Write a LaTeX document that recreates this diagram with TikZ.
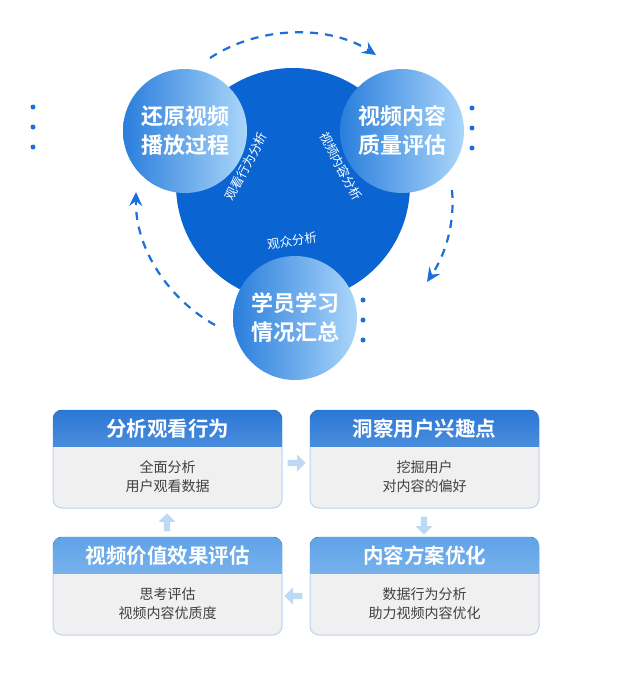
\documentclass[tikz,border=0pt]{standalone}
\usepackage{fontspec}
\newfontfamily\cjk{Noto Sans CJK SC}
\newfontfamily\cjkb{Noto Sans CJK SC Bold}
\usetikzlibrary{arrows.meta,shapes.arrows}
\definecolor{dark}{HTML}{0A64D2}
\definecolor{cl}{HTML}{2A7EDC}
\definecolor{cr}{HTML}{AAD6FA}
\definecolor{dash}{HTML}{1A6FD8}
\definecolor{hd1}{HTML}{2A78D6}
\definecolor{hd2}{HTML}{5FA3E8}
\definecolor{bd}{HTML}{B5D5F3}
\definecolor{ar}{HTML}{BCD9F5}
\begin{document}
\begin{tikzpicture}[x=1pt,y=-1pt,
  ball/.style={circle,minimum size=124pt,left color=cl,right color=cr,inner sep=0},
  balltext/.style={font=\cjkb\fontsize{22}{29}\selectfont,text=white,align=center,inner sep=0},
  dashedarc/.style={draw=dash,line width=2.2pt,dash pattern=on 8pt off 7pt,-{Stealth[length=14pt,width=13pt,inset=5pt]}},
  dotc/.style={circle,fill=dash,minimum size=5pt,inner sep=0},
  inner/.style={text=white,font=\cjk\fontsize{12.5}{14}\selectfont,inner sep=0pt},
  head/.style={text=white,font=\cjkb\fontsize{20.5}{24}\selectfont},
  body/.style={text=black!75,font=\cjk\fontsize{14}{19}\selectfont,align=center},
  blk/.style={single arrow,fill=ar,minimum height=18pt,minimum width=17pt,single arrow head extend=2pt,inner sep=1pt}]
\useasboundingbox (0,0) rectangle (619,675);
\fill[dark] (293,185) circle (117);
\node[ball] (L) at (185,131) {};
\node[ball] (R) at (402,131) {};
\node[ball] (B) at (295,318) {};
\node[balltext] (Lt) at (L.center) {还原视频\\播放过程};
\node[balltext] (Rt) at (R.center) {视频内容\\质量评估};
\node[balltext] (Bt) at (B.center) {学员学习\\情况汇总};
\node[inner,rotate=62] (t1) at (246,166) {观看行为分析};
\node[inner,rotate=-62] (t2) at (341,166) {视频内容分析};
\node[inner,rotate=8] (t3) at (292,241) {观众分析};
\coordinate (a1) at (210,58); \coordinate (a2) at (376,55);
\coordinate (b1) at (452,190); \coordinate (b2) at (427,282);
\coordinate (c1) at (215,325); \coordinate (c2) at (136,192);
\draw[dashedarc] (a1) .. controls (260,25) and (330,25) .. (a2);
\draw[dashedarc] (b1) .. controls (455,225) and (445,255) .. (b2);
\draw[dashedarc] (c1) .. controls (170,300) and (135,250) .. (c2);
\foreach \y [count=\i] in {107,127,147}{
  \node[dotc] (dl\i) at (33,\y) {};
  \node[dotc] (dr\i) at (472,\y+1) {};
  \node[dotc] (db\i) at (363,\y+193) {};}
\foreach \n/\x/\y/\c/\h/\b in {p/53/410/hd1/分析观看行为/{全面分析\\用户观看数据},
  q/310/410/hd1/洞察用户兴趣点/{挖掘用户\\对内容的偏好},
  r/310/537/hd2/内容方案优化/{数据行为分析\\助力视频内容优化},
  s/53/537/hd2/视频价值效果评估/{思考评估\\视频内容优质度}}{
  \fill[gray!12,draw=bd,line width=1pt,rounded corners=9pt] (\x,\y) rectangle ++(229,98);
  \begin{scope}
  \clip[rounded corners=9pt] (\x,\y) rectangle ++(229,98);
  \fill[top color=\c,bottom color=\c!85!white] (\x,\y) rectangle ++(229,36);
  \end{scope}
  \node[head] (\n h) at (\x+114.5,\y+19) {\h};
  \node[body] (\n b) at (\x+114.5,\y+67) {\b};}
\node[blk] (m1) at (295,463) {};
\node[blk,rotate=-90] (m2) at (424,524) {};
\node[blk,rotate=180] (m3) at (295,596) {};
\node[blk,rotate=90] (m4) at (167,524) {};
\end{tikzpicture}
\end{document}
